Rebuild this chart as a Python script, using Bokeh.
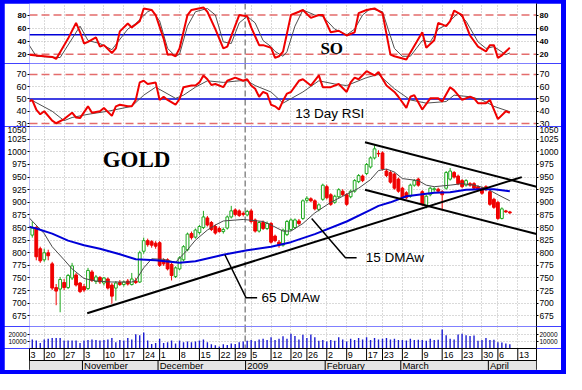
from bokeh.plotting import figure
from bokeh.layouts import column
from bokeh.models import Range1d, LinearAxis, FixedTicker, Grid, Span, BoxAnnotation
from bokeh.core.properties import value
from bokeh.embed import file_html
from bokeh.resources import INLINE

# ---------------- x axis: trading-day index (0 = 13 Oct 2008) ----------------
day_ticks = [0, 5, 10, 15, 20, 25, 30, 34, 39, 44, 49, 53, 57, 62, 67, 71, 76, 81, 86, 90,
             95, 100, 105, 110, 115, 119, 124]
day_labels = ["13", "20", "27", "3", "10", "17", "24", "1", "8", "15", "22", "29", "5", "12",
              "20", "26", "2", "9", "17", "23", "2", "9", "16", "23", "30", "6", "13"]
month_starts = [15, 34, 56, 76, 95, 117]
month_labels = ["November", "December", "2009", "February", "March", "April"]
year_break = [55.5]

# ---------------- daily gold prices (first bar = day 2) ----------------
opens = [835, 850, 808, 786, 800, 778, 731, 728, 741, 731,
         750, 756, 740, 733, 729, 762, 743, 751, 740, 748,
         736, 730, 741, 737, 744, 737, 744, 742, 803, 824,
         822, 819, 820, 785, 786, 777, 753, 768, 786, 806,
         838, 831, 840, 850, 869, 860, 852, 848, 842, 849,
         871, 885, 883, 878, 875, 883, 865, 843, 860, 848,
         858, 833, 821, 815, 836, 846, 850, 863, 868, 904,
         907, 903, 886, 906, 931, 915, 900, 911, 922, 915,
         911, 922, 941, 952, 957, 970, 988, 997, 998, 962,
         959, 956, 946, 928, 919, 912, 934, 946, 921, 893,
         915, 925, 926, 921, 928, 946, 959, 952, 943, 934,
         937, 937, 931, 928, 931, 921, 906, 900, 868, 883, 881]
highs = [862, 853, 812, 808, 806, 782, 738, 752, 748, 758,
         780, 760, 742, 738, 770, 766, 756, 754, 752, 751,
         740, 744, 746, 745, 748, 760, 750, 804, 830, 828,
         825, 823, 823, 789, 789, 780, 773, 793, 815, 840,
         842, 848, 855, 883, 873, 863, 856, 852, 850, 874,
         893, 888, 886, 882, 885, 887, 868, 863, 864, 862,
         861, 836, 825, 848, 865, 868, 868, 867, 906, 912,
         910, 906, 898, 937, 935, 918, 915, 928, 926, 918,
         925, 946, 956, 955, 978, 991, 1013, 1003, 1001, 966,
         962, 959, 949, 931, 922, 937, 946, 949, 924, 915,
         931, 930, 929, 924, 962, 968, 962, 955, 946, 946,
         940, 940, 934, 931, 934, 924, 909, 903, 890, 885, 883]
lows = [830, 785, 780, 782, 785, 726, 696, 682, 726, 728,
        746, 733, 720, 722, 726, 742, 738, 738, 735, 727,
        699, 705, 734, 733, 735, 735, 738, 740, 798, 812,
        810, 808, 772, 774, 765, 745, 750, 765, 783, 803,
        826, 828, 836, 847, 852, 843, 836, 840, 838, 846,
        868, 872, 871, 872, 872, 858, 840, 840, 845, 845,
        818, 821, 810, 812, 833, 843, 847, 854, 865, 899,
        900, 884, 882, 903, 906, 893, 897, 908, 912, 893,
        908, 919, 938, 940, 954, 967, 985, 990, 963, 950,
        937, 925, 919, 905, 906, 909, 931, 931, 893, 888,
        912, 921, 919, 884, 925, 943, 947, 934, 928, 931,
        931, 925, 922, 915, 922, 893, 887, 865, 866, 879, 877]
closes = [849, 792, 784, 800, 794, 730, 724, 747, 731, 755,
          774, 736, 723, 726, 765, 745, 752, 742, 750, 730,
          714, 740, 737, 742, 738, 748, 741, 800, 824, 816,
          815, 813, 775, 778, 768, 755, 770, 790, 812, 837,
          830, 845, 852, 871, 855, 846, 839, 842, 846, 871,
          883, 876, 874, 876, 882, 862, 843, 860, 848, 858,
          821, 824, 815, 845, 862, 865, 865, 858, 903, 908,
          903, 887, 895, 934, 909, 896, 912, 925, 915, 896,
          922, 943, 953, 943, 975, 988, 1006, 996, 966, 953,
          940, 928, 922, 909, 909, 934, 943, 934, 896, 912,
          928, 927, 922, 915, 959, 962, 950, 937, 931, 943,
          934, 928, 925, 918, 925, 896, 890, 868, 887, 881, 879]
volumes = [13000, 11500, 8000, 13000, 14000, 15000, 15000, 15000, 11500, 11500,
           11500, 11500, 8000, 11500, 12000, 13000, 12000, 11500, 12000, 13000,
           15000, 9000, 12000, 11500, 15000, 13000, 20500, 19000, 23000, 11500,
           6500, 8000, 14000, 8000, 9000, 11500, 7000, 11500, 9000, 10000,
           9000, 10000, 11500, 13000, 9000, 6000, 4500, 3000, 6000, 5000,
           7000, 6500, 9000, 10000, 11000, 12000, 10500, 13000, 14000, 12000,
           16000, 12000, 14000, 17500, 14000, 21000, 18000, 13000, 19500, 15000,
           20000, 16000, 11000, 12000, 10000, 12000, 11000, 16000, 13000, 10000,
           14000, 12000, 15000, 13000, 16000, 12000, 15000, 13000, 14000, 15000,
           13000, 14000, 12000, 12000, 11500, 14000, 12000, 12500, 12000, 11000,
           14000, 12000, 12500, 27000, 19000, 14000, 13000, 20000, 21000, 19000,
           18000, 18500, 11000, 12000, 15000, 12000, 12500, 9000, 8500, 7000, 6000]
first_day = 2

# moving averages
ma15_days = [1, 5, 7, 10, 12, 15, 18, 22, 27, 28, 30, 32, 35, 38, 41, 43, 46, 48, 50, 55,
             60, 62, 65, 67, 70, 73, 77, 80, 84, 87, 89, 91, 93, 95, 99, 101, 103, 107, 110,
             113, 116, 119, 122]
ma15_vals = [871, 838, 812, 786, 768, 749, 744, 742, 742, 745, 770, 788, 787, 781, 806, 825,
             845, 855, 863, 866, 862, 855, 843, 843, 858, 879, 900, 912, 928, 945, 963, 966,
             960, 947, 943, 934, 931, 934, 937, 934, 928, 915, 903]
ma65_days = [1, 3, 7, 11, 15, 19, 24, 28, 33, 39, 43, 50, 56, 62, 67, 73, 81, 87, 89, 92,
             96, 103, 107, 111, 115, 118, 122]
ma65_vals = [852, 848, 838, 824, 815, 808, 797, 787, 785, 780, 783, 796, 805, 812, 821, 837,
             862, 885, 893, 900, 912, 919, 920, 925, 926, 926, 922]

# trend lines (start day, start price, end day, end price)
trend_d0 = [15.8, 85.6, 85.6]
trend_v0 = [680, 1019, 925]
trend_d1 = [125.0, 128.7, 128.7]
trend_v1 = [950, 931, 837]

# annotation leaders
lead65_days = [50.4, 55.7, 58.5]
lead65_vals = [796, 711, 711]
lead15_days = [72.2, 80.7, 83.5]
lead15_vals = [868, 790, 790]
note_days = [59.6, 85.8]
note_vals = [711, 790]
note_text = ["65 DMAw", "15 DMAw"]

# stochastic oscillator
so_days = [1, 3, 5, 7, 8, 11, 13, 14, 15, 16, 18, 19, 20, 22, 23, 24, 26, 27, 29, 30, 32, 33,
           35, 36, 37, 38, 39, 41, 42, 45, 46, 48, 50, 51, 54, 56, 57, 59, 60, 62, 63, 64, 65,
           67, 69, 70, 72, 74, 75, 77, 79, 81, 83, 84, 86, 88, 90, 92, 93, 96, 100, 101, 103,
           104, 106, 107, 108, 110, 112, 114, 116, 117, 118, 119, 120, 122]
so_vals = [19.5, 18, 17, 16, 13, 44, 68, 54, 36.5, 39, 46, 31.7, 34, 22, 29, 55, 67, 61, 70.6,
           90, 87.7, 80, 44, 19.5, 20, 17, 29, 80, 87.7, 91.6, 85, 58.5, 29, 31.7, 80, 78, 61,
           34, 34, 30, 14.6, 17, 24, 80, 85, 87.7, 75.6, 80, 80, 53.6, 56, 48.7, 53.6, 82.9,
           87.7, 90, 82.9, 19.5, 17, 12, 53.6, 30, 41.4, 68, 63, 70.6, 86.7, 80, 48.7, 31.7,
           24.4, 34, 34, 14.6, 18.5, 30]
so_sig_days = [1, 3, 9, 14, 16, 19, 22, 26, 28, 31, 32, 34, 36, 38, 39, 41, 43, 46, 48, 50,
               52, 54, 56, 58, 60, 62, 63, 65, 66, 68, 70, 73, 75, 78, 81, 83, 85, 87, 90, 93,
               95, 97, 100, 102, 104, 106, 109, 111, 114, 116, 118, 121, 122]
so_sig_vals = [36, 17, 15, 63, 41, 36.5, 27, 58.5, 67, 85, 87.7, 71, 29, 17, 20, 63, 85, 90,
               80, 39, 36.5, 68, 78, 68, 41, 31.7, 24.4, 17, 24, 63, 87.7, 80, 78, 58.5, 49.7,
               58.5, 80, 90, 85, 29, 17, 17, 41, 39, 58.5, 65, 83, 70.6, 39, 29, 31.7, 19.5, 22]

# 13 day RSI
rsi_days = [1, 2, 3, 4, 5, 7, 8, 10, 12, 13, 14, 16, 17, 19, 20, 22, 23, 24, 26, 27, 28, 29,
            30, 31, 33, 34, 35, 36, 38, 39, 40, 42, 43, 44, 45, 46, 47, 48, 50, 51, 53, 55,
            56, 57, 58, 59, 60, 61, 62, 63, 64, 65, 66, 67, 69, 70, 72, 74, 75, 77, 79, 81,
            82, 83, 84, 86, 88, 89, 91, 93, 94, 96, 97, 98, 100, 102, 104, 105, 107, 108, 110,
            112, 113, 114, 116, 117, 118, 119, 121, 122]
rsi_vals = [47.9, 49, 41.4, 37.5, 40, 32.3, 30.2, 33.6, 38.8, 34.9, 34.4, 44, 38.8, 40, 42.7,
            36.2, 44, 45.3, 44, 44, 49.2, 63.5, 64.8, 62.2, 63.5, 49.2, 51.8, 49.2, 45.3, 50,
            59.6, 60.9, 61, 63.5, 69.2, 66.1, 61.4, 62.2, 59.6, 64.8, 67.4, 64.8, 66.1, 60.9,
            58.3, 51.8, 55.7, 54.4, 45.3, 44, 41.4, 48.5, 54.4, 55.7, 64.8, 66.1, 60.9, 69.2,
            59.6, 59.6, 62.2, 55.7, 63.5, 67.4, 66.1, 72.6, 69.2, 71.9, 60.9, 55.7, 51.8, 42.7,
            51.8, 53.1, 41.4, 50.5, 50.5, 47.9, 59.6, 57, 49.2, 51.8, 50.5, 46.6, 46.6, 49.2,
            41.4, 33.6, 40, 38.8]
rsi_sig_days = [1, 7, 10, 12, 16, 21, 27, 30, 33, 38, 40, 43, 46, 50, 54, 56, 58, 62, 65, 70,
                74, 78, 81, 86, 89, 93, 97, 101, 106, 108, 112, 115, 118, 122]
rsi_sig_vals = [50.5, 40, 32.3, 34.9, 37.5, 40, 44, 53.1, 59.6, 50.5, 53.1, 59.6, 64.8, 63.5,
                64.8, 64.8, 60.9, 55.7, 46.6, 55.7, 64.8, 62.2, 60.9, 67.4, 70, 58.3, 49.2,
                46.6, 47.9, 53.1, 51.8, 49.2, 44, 39.6]

so_ticks = [20, 40, 60, 80]
rsi_ticks = [30, 40, 50, 60, 70]
price_ticks = [675, 700, 725, 750, 775, 800, 825, 850, 875, 900, 925, 950, 975, 1000, 1025, 1050]
vol_ticks = [10000, 20000]

# ---------------- styling ----------------
SANS = "Liberation Sans"
SERIF = "Liberation Serif"
GREEN = "#1fa81f"
RED = "#f00000"
BLUE = "#0000d8"
DASH_RED = "#e46c6c"
GRIDC = "#b4b4b4"
W = 557
LB, RB = 23, 23

x_rng = Range1d(1.3, 128.7)


def make_fig(h, yr):
    p = figure(width=W, height=h, x_range=x_rng, y_range=yr, x_axis_type=None,
               y_axis_type=None, toolbar_location=None, output_backend="svg", title=None,
               min_border_left=LB, min_border_right=RB, min_border_top=0, min_border_bottom=0)
    p.outline_line_color = None
    p.background_fill_color = "white"
    p.border_fill_color = "white"
    return p


def add_axes(p, ticks, size, bold=False):
    for side in ("left", "right"):
        ax = LinearAxis(ticker=FixedTicker(ticks=ticks))
        ax.major_label_text_font = SANS
        ax.major_label_text_font_size = size
        ax.major_label_text_font_style = "bold" if bold else "normal"
        ax.major_label_text_color = "black"
        ax.major_tick_out = 2
        ax.major_tick_in = 0
        ax.major_tick_line_color = "black"
        ax.minor_tick_line_color = None
        ax.major_label_standoff = 1
        ax.axis_line_color = None if side == "left" else "black"
        p.add_layout(ax, side)


def add_grid(p, yticks):
    p.add_layout(Grid(dimension=0, ticker=FixedTicker(ticks=day_ticks),
                      grid_line_color=GRIDC, grid_line_dash="1 2"))
    if yticks:
        p.add_layout(Grid(dimension=1, ticker=FixedTicker(ticks=yticks),
                          grid_line_color=GRIDC, grid_line_dash="1 2"))
    for yb in year_break:
        p.add_layout(Span(location=yb, dimension="height", line_color="#8a8a8a",
                          line_dash="6 3", line_width=1.5, level="underlay"))


def add_level(p, loc, color, dash=None):
    kw = dict(location=loc, dimension="width", line_color=color, line_width=1.5,
              level="underlay")
    if dash:
        kw["line_dash"] = dash
    p.add_layout(Span(**kw))


# ---------------- SO panel ----------------
p_so = make_fig(60, Range1d(5.95, 97.6))
add_grid(p_so, [40, 60])
add_axes(p_so, so_ticks, "8px", bold=True)
add_level(p_so, 20, DASH_RED, "8 4")
add_level(p_so, 80, DASH_RED, "8 4")
add_level(p_so, 50, BLUE)
p_so.line(so_sig_days, so_sig_vals, line_color="#505050", line_width=1)
p_so.line(so_days, so_vals, line_color=RED, line_width=2)
p_so.text(x=[74.4], y=[29], text=["SO"], text_font=value(SERIF), text_font_style="bold",
          text_font_size="17px", text_align="left", text_baseline="middle", text_color="black")

# ---------------- RSI panel ----------------
p_rsi = make_fig(63, Range1d(27.56, 78.9))
add_grid(p_rsi, [40, 60])
add_axes(p_rsi, rsi_ticks, "9px")
add_level(p_rsi, 30, DASH_RED, "8 4")
add_level(p_rsi, 70, DASH_RED, "8 4")
add_level(p_rsi, 50, BLUE)
p_rsi.line(rsi_sig_days, rsi_sig_vals, line_color="#505050", line_width=1)
p_rsi.line(rsi_days, rsi_vals, line_color=RED, line_width=2)
p_rsi.text(x=[68.1], y=[38.4], text=["13 Day RSI"], text_font=value(SANS),
           text_font_size="13.5px", text_align="left", text_baseline="middle",
           text_color="black")

# ---------------- price panel ----------------
p_pr = make_fig(200, Range1d(653.8, 1050.3))
add_grid(p_pr, price_ticks)
add_axes(p_pr, price_ticks, "8.5px")

days = list(range(first_day, first_day + len(opens)))
up = [k for k in range(len(days)) if closes[k] >= opens[k]]
dn = [k for k in range(len(days)) if closes[k] < opens[k]]
for idx, fill, col in ((up, "white", GREEN), (dn, RED, RED)):
    xs = [days[k] for k in idx]
    p_pr.segment(x0=xs, y0=[lows[k] for k in idx], x1=xs, y1=[highs[k] for k in idx],
                 line_color=col, line_width=1)
    p_pr.vbar(x=xs, width=0.7, top=[max(opens[k], closes[k]) for k in idx],
              bottom=[min(opens[k], closes[k]) for k in idx], fill_color=fill,
              line_color=col, line_width=1)

p_pr.line(ma15_days, ma15_vals, line_color="#4a4a4a", line_width=1)
p_pr.line(ma65_days, ma65_vals, line_color=BLUE, line_width=2)
p_pr.segment(x0=trend_d0, y0=trend_v0, x1=trend_d1, y1=trend_v1, line_color="black",
             line_width=2)
p_pr.line(lead65_days, lead65_vals, line_color="black", line_width=1.5)
p_pr.line(lead15_days, lead15_vals, line_color="black", line_width=1.5)
p_pr.text(x=note_days, y=note_vals, text=note_text, text_font=value(SANS),
          text_font_size="13.5px", text_align="left", text_baseline="middle",
          text_color="black")
p_pr.text(x=[19.7], y=[984], text=["GOLD"], text_font=value(SERIF), text_font_style="bold",
          text_font_size="23px", text_align="left", text_baseline="middle", text_color="black")

# ---------------- volume panel ----------------
p_vol = make_fig(22, Range1d(0, 31430))
add_grid(p_vol, vol_ticks)
add_axes(p_vol, vol_ticks, "6.5px")
p_vol.vbar(x=days, width=0.35, top=volumes, bottom=0, fill_color="#1a1ad0", line_color=None)

# ---------------- date rows ----------------
p_ax = make_fig(22, Range1d(0, 22))
p_ax.outline_line_color = "black"
p_ax.add_layout(BoxAnnotation(bottom=0, top=10, fill_color="#e4e4e4", fill_alpha=1,
                              line_color=None, level="underlay"))
p_ax.add_layout(Span(location=10, dimension="width", line_color="black", line_width=1))
p_ax.segment(x0=day_ticks, y0=10, x1=day_ticks, y1=22, line_color="black", line_width=1)
msep = [m - 0.4 for m in month_starts]
p_ax.segment(x0=msep, y0=0, x1=msep, y1=10, line_color="black", line_width=1)
p_ax.text(x=[t + 0.3 for t in day_ticks], y=16, text=day_labels, text_font=value(SANS),
          text_font_size="9px", text_align="left", text_baseline="middle", text_color="black")
p_ax.text(x=[m + 0.0 for m in month_starts], y=4.8, text=month_labels, text_font=value(SANS),
          text_font_size="9.5px", text_align="left", text_baseline="middle",
          text_color="black")

layout = column(p_so, p_rsi, p_pr, p_vol, p_ax, spacing=0,
                styles={"background-color": "#0000ff", "padding": "3px 5px 4px 4px"})

open("out.html", "w").write(file_html(layout, INLINE))
